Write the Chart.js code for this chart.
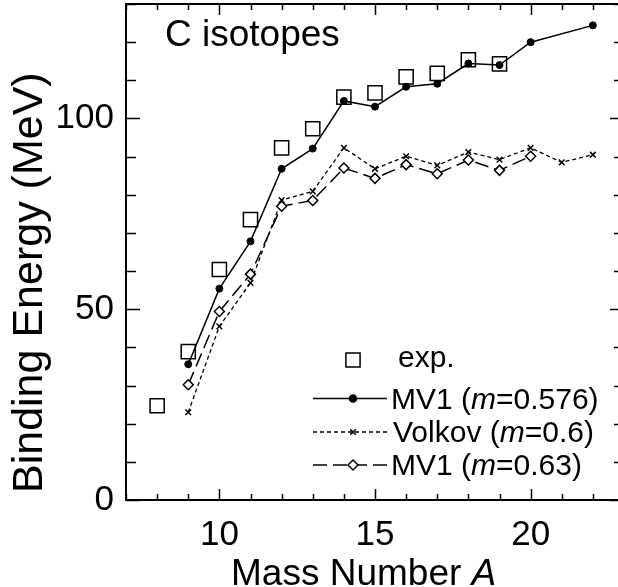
<!DOCTYPE html>
<html>
<head>
<meta charset="utf-8">
<script src="https://cdn.jsdelivr.net/npm/chart.js@4/dist/chart.umd.min.js"></script>
<style>
  html, body { margin: 0; padding: 0; background: #fff; overflow: hidden; width: 618px; height: 587px; }
  canvas { display: block; }
</style>
</head>
<body>
<canvas id="c" width="624" height="587"></canvas>
<script>
// ---- data ----
const expMass = [8, 9, 10, 11, 12, 13, 14, 15, 16, 17, 18, 19];
const expBE   = [24.7, 38.9, 60.4, 73.5, 92.3, 97.3, 105.6, 106.7, 110.9, 111.8, 115.4, 114.3];

const mv1Mass = [9, 10, 11, 12, 13, 14, 15, 16, 17, 18, 19, 20, 22];
const mv1BE   = [35.6, 55.4, 67.8, 86.8, 92.1, 104.6, 103.1, 108.3, 109.1, 114.4, 114.0, 120.0, 124.4];

const volkovMass = [9, 10, 11, 12, 13, 14, 15, 16, 17, 18, 19, 20, 21, 22];
const volkovBE   = [23.0, 45.5, 56.9, 78.6, 80.9, 92.3, 86.8, 90.1, 87.7, 91.2, 89.2, 92.3, 88.5, 90.5];

const mv163Mass = [9, 10, 11, 12, 13, 14, 15, 16, 17, 18, 19, 20];
const mv163BE   = [30.2, 49.4, 59.2, 77.0, 78.5, 87.0, 84.3, 87.9, 85.5, 89.1, 86.4, 90.1];

const xTickLabels = [10, 15, 20];
const yTickLabels = [0, 50, 100];

const seriesLabels = ['exp.', 'MV1 (m=0.576)', 'Volkov (m=0.6)', 'MV1 (m=0.63)'];
const xTitle = 'Mass Number A';
const yTitle = 'Binding Energy (MeV)';
const panelLabel = 'C isotopes';

const FONT = '"Liberation Sans", Arial, Helvetica, sans-serif';

function pts(xs, ys) { return xs.map((x, i) => ({ x: x, y: ys[i] })); }

function drawMarker(ctx, style, x, y, r, fill) {
  ctx.save();
  ctx.lineWidth = 1.5;
  ctx.strokeStyle = '#000';
  ctx.fillStyle = fill;
  ctx.setLineDash([]);
  ctx.beginPath();
  if (style === 'rect') {
    const s = Math.SQRT1_2 * r;
    ctx.rect(x - s, y - s, 2 * s, 2 * s);
    ctx.stroke();
  } else if (style === 'circle') {
    ctx.arc(x, y, r, 0, Math.PI * 2);
    ctx.fill(); ctx.stroke();
  } else if (style === 'crossRot') {
    const d = r * Math.SQRT1_2;
    ctx.moveTo(x - d, y - d); ctx.lineTo(x + d, y + d);
    ctx.moveTo(x - d, y + d); ctx.lineTo(x + d, y - d);
    ctx.stroke();
  } else if (style === 'rectRot') {
    ctx.moveTo(x - r, y); ctx.lineTo(x, y - r); ctx.lineTo(x + r, y); ctx.lineTo(x, y + r);
    ctx.closePath();
    ctx.fill(); ctx.stroke();
  }
  ctx.restore();
}

function drawMixed(ctx, x, y, label, size) {
  const parts = [];
  const idx = label.indexOf('(m=');
  if (idx >= 0) {
    parts.push([label.slice(0, idx + 1), false]);
    parts.push(['m', true]);
    parts.push([label.slice(idx + 2), false]);
  } else {
    parts.push([label, false]);
  }
  let cx = x;
  parts.forEach(([t, it]) => {
    ctx.font = (it ? 'italic ' : '') + size + 'px ' + FONT;
    ctx.fillText(t, cx, y);
    cx += ctx.measureText(t).width;
  });
}

const decor = {
  id: 'decor',
  afterDraw(chart) {
    const ctx = chart.ctx;
    const xs = chart.scales.x, ys = chart.scales.y;
    const a = chart.chartArea;
    ctx.save();
    ctx.strokeStyle = '#000';
    ctx.fillStyle = '#000';
    ctx.lineWidth = 2;
    ctx.beginPath();
    ctx.moveTo(a.left, a.bottom); ctx.lineTo(a.left, a.top); ctx.lineTo(a.right, a.top);
    ctx.lineTo(a.right, a.bottom); ctx.lineTo(a.left, a.bottom);
    ctx.stroke();
    ctx.lineWidth = 1.5;
    ctx.beginPath();
    for (let v = Math.ceil(xs.min); v <= xs.max; v++) {
      const px = Math.round(xs.getPixelForValue(v)) + 0.5;
      const len = (v % 5 === 0) ? 11 : 6;
      ctx.moveTo(px, a.bottom); ctx.lineTo(px, a.bottom - len);
      ctx.moveTo(px, a.top); ctx.lineTo(px, a.top + len);
    }
    for (let v = ys.min; v <= ys.max; v += 10) {
      const py = Math.round(ys.getPixelForValue(v)) + 0.5;
      const len = (v % 50 === 0) ? 14 : 10;
      ctx.moveTo(a.left, py); ctx.lineTo(a.left + len, py);
      ctx.moveTo(a.right, py); ctx.lineTo(a.right - len, py);
    }
    ctx.stroke();

    ctx.textBaseline = 'alphabetic';
    ctx.textAlign = 'left';
    ctx.font = '37px ' + FONT;
    const xt = xTitle.slice(0, -1);
    ctx.fillText(xt, 231, 585);
    const w = ctx.measureText(xt).width;
    ctx.font = 'italic 37px ' + FONT;
    ctx.fillText(xTitle.slice(-1), 231 + w, 585);

    ctx.save();
    ctx.translate(41.5, 493);
    ctx.rotate(-Math.PI / 2);
    ctx.font = '43px ' + FONT;
    ctx.fillText(yTitle, 0, 0);
    ctx.restore();

    ctx.font = '37px ' + FONT;
    ctx.fillText(panelLabel, 165, 46);

    const rows = [
      { ds: 0, y: 367, cy: 360, tx: 398 },
      { ds: 1, y: 409, cy: 398.5, tx: 391 },
      { ds: 2, y: 442, cy: 432, tx: 393 },
      { ds: 3, y: 475, cy: 465, tx: 391 }
    ];
    rows.forEach(r => {
      const d = chart.data.datasets[r.ds];
      if (d.showLine !== false) {
        ctx.save();
        ctx.lineWidth = d.borderWidth;
        ctx.setLineDash(d.borderDash || []);
        ctx.beginPath();
        ctx.moveTo(313, r.cy); ctx.lineTo(387, r.cy);
        ctx.stroke();
        ctx.restore();
      }
      drawMarker(ctx, d.pointStyle, 353, r.cy, d.pointRadius, d.pointBackgroundColor);
      ctx.fillStyle = '#000';
      drawMixed(ctx, r.tx, r.y, d.label, 30);
    });
    ctx.restore();
  }
};

function zeroPad(s) { s.paddingTop = 0; s.paddingBottom = 0; s.paddingLeft = 0; s.paddingRight = 0; }

new Chart(document.getElementById('c'), {
  type: 'scatter',
  data: {
    datasets: [
      {
        label: seriesLabels[0],
        data: pts(expMass, expBE),
        showLine: false,
        pointStyle: 'rect',
        pointRadius: 10,
        pointHoverRadius: 10,
        pointBorderWidth: 1.5,
        borderColor: '#000',
        pointBorderColor: '#000',
        pointBackgroundColor: 'rgba(0,0,0,0)',
        backgroundColor: 'rgba(0,0,0,0)',
        order: 0
      },
      {
        label: seriesLabels[1],
        data: pts(mv1Mass, mv1BE),
        showLine: true,
        borderColor: '#000',
        borderWidth: 1.5,
        pointStyle: 'circle',
        pointRadius: 3.5,
        pointBorderWidth: 1,
        pointBorderColor: '#000',
        pointBackgroundColor: '#000',
        order: 1
      },
      {
        label: seriesLabels[2],
        data: pts(volkovMass, volkovBE),
        showLine: true,
        borderColor: '#000',
        borderWidth: 1.3,
        borderDash: [4, 3],
        pointStyle: 'crossRot',
        pointRadius: 4,
        pointBorderWidth: 1.5,
        pointBorderColor: '#000',
        pointBackgroundColor: '#000',
        order: 3
      },
      {
        label: seriesLabels[3],
        data: pts(mv163Mass, mv163BE),
        showLine: true,
        borderColor: '#000',
        borderWidth: 1.5,
        borderDash: [14, 6],
        pointStyle: 'rectRot',
        pointRadius: 5,
        pointBorderWidth: 1.5,
        pointBorderColor: '#000',
        pointBackgroundColor: '#fff',
        order: 2
      }
    ]
  },
  options: {
    responsive: false,
    animation: false,
    devicePixelRatio: 1,
    clip: false,
    events: [],
    layout: { autoPadding: false, padding: { top: 4, right: 0, left: 0, bottom: 0 } },
    plugins: { legend: { display: false }, tooltip: { enabled: false } },
    elements: { line: { tension: 0 } },
    scales: {
      x: {
        type: 'linear',
        min: 7, max: 23,
        grid: { display: false },
        border: { display: true, color: '#000', width: 2 },
        ticks: { color: '#000', font: { family: FONT, size: 35 }, padding: 6, maxRotation: 0 },
        afterBuildTicks: s => { s.ticks = xTickLabels.map(v => ({ value: v })); },
        afterFit: s => { s.height = 87; zeroPad(s); }
      },
      y: {
        type: 'linear',
        min: 0, max: 130,
        grid: { display: false },
        border: { display: true, color: '#000', width: 2 },
        ticks: { color: '#000', font: { family: FONT, size: 35 }, padding: 4 },
        afterBuildTicks: s => { s.ticks = yTickLabels.map(v => ({ value: v })); },
        afterFit: s => { s.width = 126; zeroPad(s); }
      }
    }
  },
  plugins: [decor]
});
</script>
</body>
</html>
